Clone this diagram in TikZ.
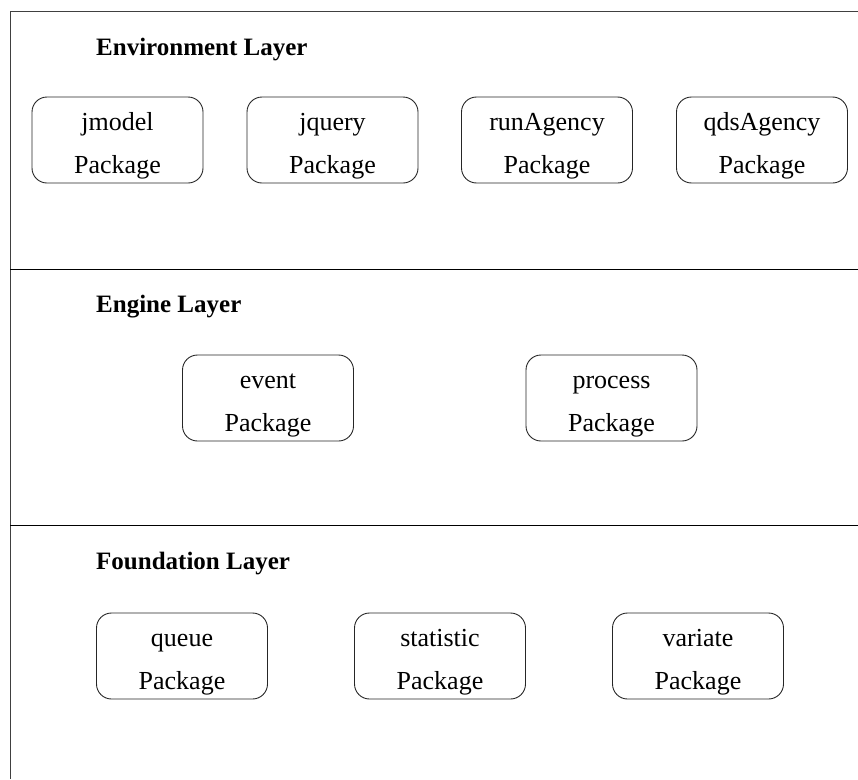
\documentclass[tikz,border=0pt]{standalone}
\usepackage{fontspec}
\setmainfont{Liberation Serif}
\tikzset{
  frame/.style={draw=black!75, line width=1pt},
  divider/.style={draw=black, line width=1pt},
  pkgbox/.style={draw=black!85, line width=0.9pt, rounded corners=15pt,
    minimum width=171pt, minimum height=86pt, inner sep=0pt},
  pkgtext/.style={anchor=base, inner sep=0pt, font=\fontsize{26}{30}\selectfont},
  layertitle/.style={anchor=base west, inner sep=0pt, font=\fontsize{25}{30}\selectfont\bfseries}
}
% one package box: name, centre x, top y, label
\newcommand\pkgunit[4]{%
  \node[pkgbox] (#1) at (#2,#3+43) {};
  \node[pkgtext] (#1-name) at (#2,#3+33) {#4};
  \node[pkgtext] (#1-kind) at (#2,#3+76) {Package};
}
\begin{document}
\begin{tikzpicture}[x=1pt,y=-1pt]
  \useasboundingbox (0,0) rectangle (858,779);
  % outer frame and layer dividers
  \coordinate (tl) at (10,11);
  \coordinate (tr) at (858,11);
  \coordinate (bl) at (10,779);
  \coordinate (d1l) at (10,269);
  \coordinate (d1r) at (858,269);
  \coordinate (d2l) at (10,525);
  \coordinate (d2r) at (858,525);
  \draw[frame] (tr) -- (tl) -- (bl);
  \draw[divider] (d1l) -- (d1r);
  \draw[divider] (d2l) -- (d2r);

  % environment layer
  \node[layertitle] (envtitle) at (96,55) {Environment Layer};
  \pkgunit{jmodel}{117.5}{97}{jmodel}
  \pkgunit{jquery}{332.5}{97}{jquery}
  \pkgunit{runagency}{547}{97}{runAgency}
  \pkgunit{qdsagency}{762}{97}{qdsAgency}

  % engine layer
  \node[layertitle] (engtitle) at (96,312) {Engine Layer};
  \pkgunit{event}{268}{355}{event}
  \pkgunit{process}{611.5}{355}{process}

  % foundation layer
  \node[layertitle] (fndtitle) at (96,569) {Foundation Layer};
  \pkgunit{queue}{182}{613}{queue}
  \pkgunit{statistic}{440}{613}{statistic}
  \pkgunit{variate}{698}{613}{variate}
\end{tikzpicture}
\end{document}
